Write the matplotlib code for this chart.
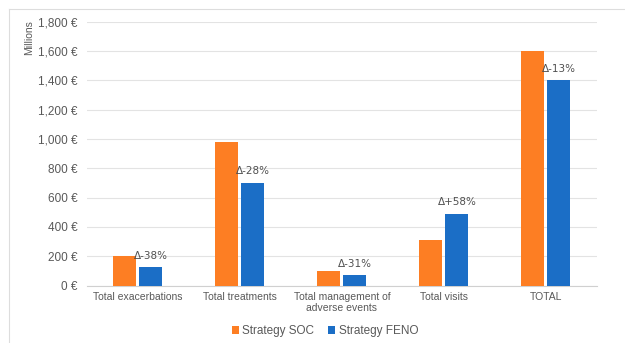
import matplotlib
matplotlib.use('Agg')
import matplotlib.pyplot as plt
from matplotlib.lines import Line2D
from matplotlib.ticker import FuncFormatter
import numpy as np

# data (millions of euros)
categories = ['Total exacerbations', 'Total treatments',
              'Total management of\nadverse events', 'Total visits', 'TOTAL']
soc = [200, 980, 100, 310, 1600]
feno = [125, 700, 70, 490, 1400]
deltas = ['Δ-38%', 'Δ-28%', 'Δ-31%', 'Δ+58%', 'Δ-13%']

orange = '#FD7E23'
blue = '#1B6EC6'
grey_txt = '#595959'

plt.rcParams['font.family'] = ['Liberation Sans', 'DejaVu Sans']

fig = plt.figure(figsize=(6.25, 3.43), dpi=100)
ax = fig.add_axes([0.139, 0.1676, 0.816, 0.7697])

x = np.arange(len(categories))
w = 0.225
gap = 0.03
ax.bar(x - w/2 - gap/2, soc, width=w, color=orange, label='Strategy SOC', zorder=3)
ax.bar(x + w/2 + gap/2, feno, width=w, color=blue, label='Strategy FENO', zorder=3)

# percentage change above each FENO bar
for i in range(len(categories)):
    ax.text(x[i] + w/2 + gap/2, feno[i] + 45, deltas[i], ha='center', va='bottom',
            fontsize=7.5, color='#505050', family=['DejaVu Sans'])

ax.set_xlim(-0.5, len(categories) - 0.5)
ax.set_ylim(0, 1800)
ax.set_yticks(np.arange(0, 1801, 200))
ax.yaxis.set_major_formatter(FuncFormatter(lambda v, p: '{:,.0f} €'.format(v)))
ax.set_xticks(x)
ax.set_xticklabels(categories, fontsize=7.5, color=grey_txt, linespacing=1.1)
ax.tick_params(axis='y', labelsize=8.5, colors=grey_txt, length=0, pad=7)
ax.tick_params(axis='x', length=0, pad=5)
ax.grid(axis='y', color='#E3E3E3', linewidth=0.8, zorder=0)
for s in ['top', 'right', 'left']:
    ax.spines[s].set_visible(False)
ax.spines['bottom'].set_color('#D0D0D0')

fig.text(29/625, 1 - 38/343, 'Millions', rotation=90, ha='center', va='center',
         fontsize=7.5, color=grey_txt)

leg = fig.legend(loc='center', bbox_to_anchor=(325/625, 1 - 331/343), ncol=2,
                 frameon=False, fontsize=8.5, handlelength=0.6, handleheight=0.6,
                 handletextpad=0.3, columnspacing=1.2)
for t in leg.get_texts():
    t.set_color(grey_txt)

# light outer frame
fig.add_artist(Line2D([9/625, 9/625], [0, 1 - 9/343], color='#DDDDDD', linewidth=0.8))
fig.add_artist(Line2D([9/625, 1], [1 - 9/343, 1 - 9/343], color='#DDDDDD', linewidth=0.8))

fig.savefig('out.png', dpi=100)
